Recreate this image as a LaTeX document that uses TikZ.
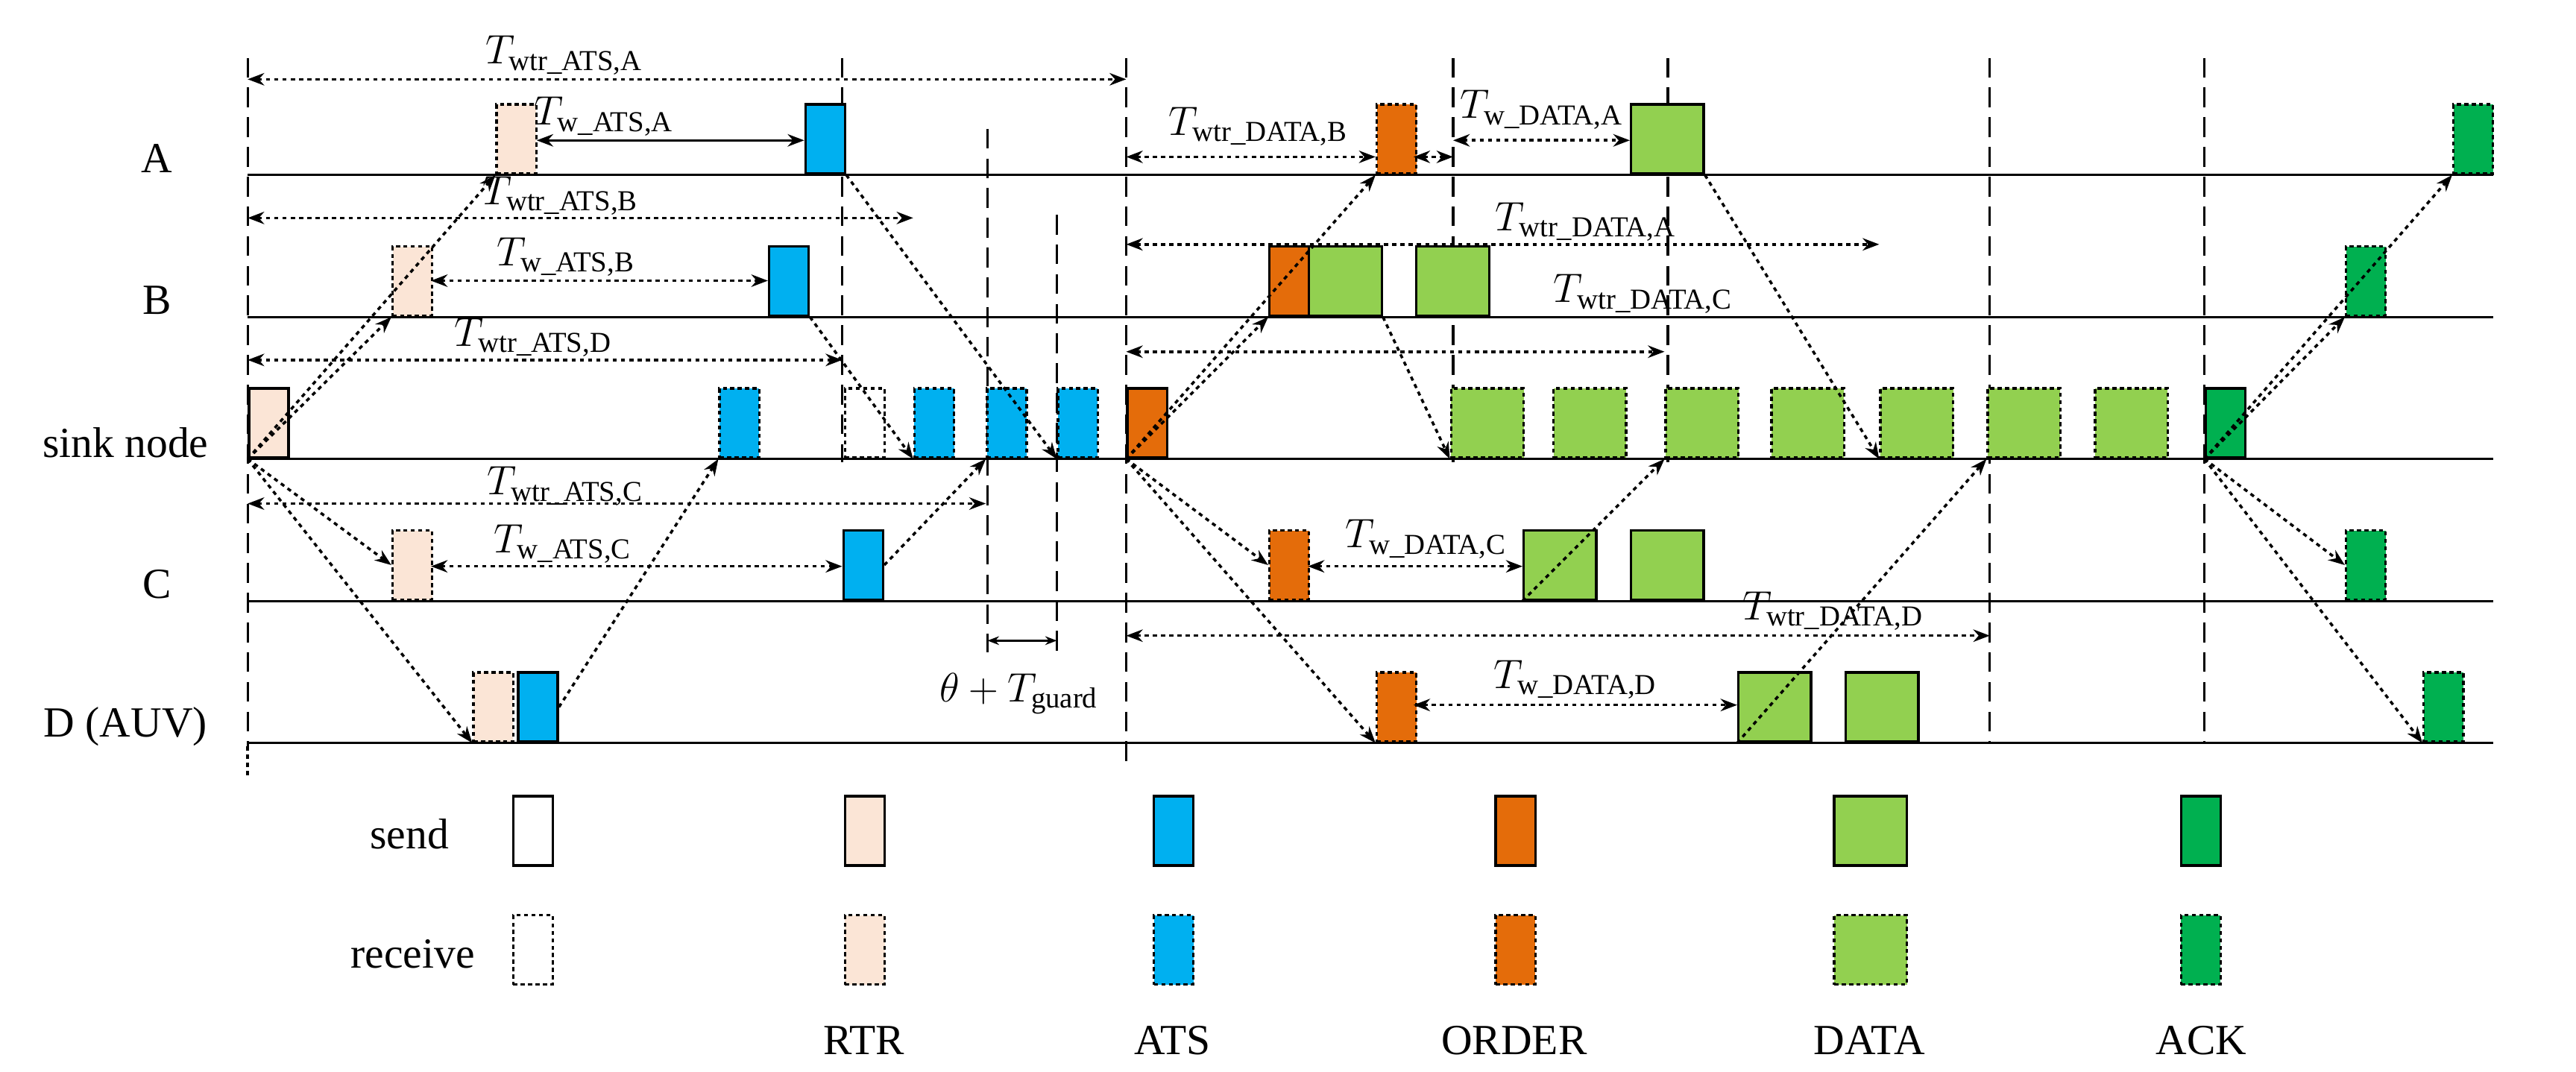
\documentclass[tikz,border=0pt]{standalone}
\usepackage{amsmath}
\usepackage{fontspec}
\setmainfont{Liberation Serif}
\usetikzlibrary{arrows.meta}
\definecolor{rtr}{HTML}{FBE5D6}
\definecolor{ats}{HTML}{00B0F0}
\definecolor{ord}{HTML}{E46C0A}
\definecolor{dat}{HTML}{92D050}
\definecolor{ack}{HTML}{00B050}
\begin{document}
\begin{tikzpicture}[x=1pt,y=-1pt,
 snd/.style={draw,line width=1.5pt,inner sep=0,minimum width=24pt,minimum height=42pt,anchor=south west},
 rcv/.style={snd,dash pattern=on 2.5pt off 2pt},
 big/.style={minimum width=44pt},
 dt/.style={line width=1.6pt,dash pattern=on 2.5pt off 2.5pt},
 msg/.style={dt,-{Stealth[length=10pt]}},
 dim/.style={dt,{Stealth[length=10pt]}-{Stealth[length=10pt]}},
 vl/.style={line width=1.5pt,dash pattern=on 12pt off 6pt},
 lbl/.style={font=\fontsize{26}{28}\selectfont,inner sep=1pt},
 tl/.style={font=\fontsize{25}{27}\selectfont,inner sep=0}]
\useasboundingbox (0,0) rectangle (1560,649);
% timelines
\foreach \y in {106,192,278,364,450}{\draw[line width=1.5pt] (150,\y) -- (1510,\y);}
\node[lbl] at (95,96) {A};
\node[lbl] at (95,182) {B};
\node[lbl] at (76,268) {sink node};
\node[lbl] at (95,354) {C};
\node[lbl] at (76,440) {D (AUV)};
% vertical dashed lines
\draw[vl] (150,35) -- (150,452);
\draw[dt] (150,452) -- (150,470);
\draw[vl] (510,35) -- (510,280);
\draw[vl] (598,78) -- (598,395);
\draw[vl] (640,130) -- (640,395);
\draw[vl] (682,35) -- (682,462);
\draw[vl] (880,35) -- (880,280);
\draw[vl] (1010,35) -- (1010,280);
\draw[vl] (1205,35) -- (1205,450);
\draw[vl] (1335,35) -- (1335,450);
% A
\node[rcv,fill=rtr] (aR) at (300,106) {};
\node[snd,fill=ats] (aT) at (487,106) {};
\node[rcv,fill=ord] (aO) at (833,106) {};
\node[snd,big,fill=dat] (aD) at (987,106) {};
\node[rcv,fill=ack] (aK) at (1485,106) {};
% B
\node[rcv,fill=rtr] (bR) at (237,192) {};
\node[snd,fill=ats] (bT) at (465,192) {};
\node[snd,fill=ord] (bO) at (768,192) {};
\node[snd,big,fill=dat] (bD1) at (792,192) {};
\node[snd,big,fill=dat] (bD2) at (857,192) {};
\node[rcv,fill=ack] (bK) at (1420,192) {};
% sink
\node[snd,fill=rtr] (sR) at (150,278) {};
\node[rcv,fill=ats] (sT1) at (435,278) {};
\node[rcv,fill=white] (sX) at (511,278) {};
\node[rcv,fill=ats] (sT2) at (553,278) {};
\node[rcv,fill=ats] (sT3) at (597,278) {};
\node[rcv,fill=ats] (sT4) at (640,278) {};
\node[snd,fill=ord] (sO) at (682,278) {};
\foreach \x/\n in {878/1,940/2,1008/3,1072/4,1138/5,1203/6,1268/7}{\node[rcv,big,fill=dat] (sD\n) at (\x,278) {};}
\node[snd,fill=ack] (sK) at (1335,278) {};
% C
\node[rcv,fill=rtr] (cR) at (237,364) {};
\node[snd,fill=ats] (cT) at (510,364) {};
\node[rcv,fill=ord] (cO) at (768,364) {};
\node[snd,big,fill=dat] (cD1) at (922,364) {};
\node[snd,big,fill=dat] (cD2) at (987,364) {};
\node[rcv,fill=ack] (cK) at (1420,364) {};
% D
\node[rcv,fill=rtr] (dR) at (286,450) {};
\node[snd,fill=ats] (dT) at (313,450) {};
\node[rcv,fill=ord] (dO) at (833,450) {};
\node[snd,big,fill=dat] (dD1) at (1052,450) {};
\node[snd,big,fill=dat] (dD2) at (1117,450) {};
\node[rcv,fill=ack] (dK) at (1467,450) {};
% message arrows
\draw[msg] (sR.south west) -- (aR.south west);
\draw[msg] (sR.south west) -- (bR.south west);
\draw[msg] (sR.south west) -- (cR.west);
\draw[msg] (sR.south west) -- (dR.south west);
\draw[msg] (aT.south east) -- (sT4.south west);
\draw[msg] (bT.south east) -- (sT2.south west);
\draw[msg] (cT.east) -- (sT3.south west);
\draw[msg] (dT.east) -- (sT1.south west);
\draw[msg] (sO.south west) -- (aO.south west);
\draw[msg] (sO.south west) -- (bO.south west);
\draw[msg] (sO.south west) -- (cO.west);
\draw[msg] (sO.south west) -- (dO.south west);
\draw[msg] (bD1.south east) -- (sD1.south west);
\draw[msg] (aD.south east) -- (sD5.south west);
\draw[msg] (cD1.south west) -- (sD3.south west);
\draw[msg] (dD1.south west) -- (sD6.south west);
\draw[msg] (sK.south west) -- (aK.south west);
\draw[msg] (sK.south west) -- (bK.south west);
\draw[msg] (sK.south west) -- (cK.west);
\draw[msg] (sK.south west) -- (dK.south west);
% dimensions
\draw[dim] (150,48) -- (682,48) node[tl,pos=0.36,above=2pt] {$T_{\text{wtr\_ATS,A}}$};
\draw[line width=1.5pt,{Stealth[length=10pt]}-{Stealth[length=10pt]}] (325,85) -- (487,85) node[tl,pos=0.25,above=2pt] {$T_{\text{w\_ATS,A}}$};
\draw[dim] (150,132) -- (553,132) node[tl,pos=0.47,above=1pt] {$T_{\text{wtr\_ATS,B}}$};
\draw[dim] (261,170) -- (465,170) node[tl,pos=0.4,above=2pt] {$T_{\text{w\_ATS,B}}$};
\draw[dim] (150,218) -- (510,218) node[tl,pos=0.48,above=1pt] {$T_{\text{wtr\_ATS,D}}$};
\draw[dim] (150,305) -- (597,305) node[tl,pos=0.43,above=-2pt] {$T_{\text{wtr\_ATS,C}}$};
\draw[dim] (261,343) -- (510,343) node[tl,pos=0.32,above=1pt] {$T_{\text{w\_ATS,C}}$};
\draw[line width=1.5pt,{Stealth[length=7pt]}-{Stealth[length=7pt]}] (598,388) -- (640,388);
\node[tl] at (617,420) {$\theta+T_{\text{guard}}$};
\draw[dim] (682,95) -- (833,95) node[tl,pos=0.53,above=6pt] {$T_{\text{wtr\_DATA,B}}$};
\draw[dim] (856,95) -- (880,95);
\draw[dim] (880,85) -- (987,85) node[tl,pos=0.5,above=6pt] {$T_{\text{w\_DATA,A}}$};
\draw[dim] (682,148) -- (1138,148) node[tl,pos=0.61,above=1pt] {$T_{\text{wtr\_DATA,A}}$};
\draw[dim] (682,213) -- (1008,213);
\node[tl] at (995,178) {$T_{\text{wtr\_DATA,C}}$};
\draw[dim] (792,343) -- (922,343) node[tl,pos=0.55,above=4pt] {$T_{\text{w\_DATA,C}}$};
\node[tl] at (1110,370) {$T_{\text{wtr\_DATA,D}}$};
\draw[dim] (682,385) -- (1205,385);
\draw[dim] (856,427) -- (1052,427) node[tl,pos=0.5,above=3pt] {$T_{\text{w\_DATA,D}}$};
% legend
\node[lbl] at (248,505) {send};
\node[lbl] at (250,578) {receive};
\node[snd,fill=white] at (310,525) {};
\node[rcv,fill=white] at (310,597) {};
\node[snd,fill=rtr] at (511,525) {};
\node[rcv,fill=rtr] at (511,597) {};
\node[snd,fill=ats] at (698,525) {};
\node[rcv,fill=ats] at (698,597) {};
\node[snd,fill=ord] at (905,525) {};
\node[rcv,fill=ord] at (905,597) {};
\node[snd,big,fill=dat] at (1110,525) {};
\node[rcv,big,fill=dat] at (1110,597) {};
\node[snd,fill=ack] at (1320,525) {};
\node[rcv,fill=ack] at (1320,597) {};
\node[lbl] at (523,630) {RTR};
\node[lbl] at (710,630) {ATS};
\node[lbl] at (917,630) {ORDER};
\node[lbl] at (1132,630) {DATA};
\node[lbl] at (1333,630) {ACK};
\end{tikzpicture}
\end{document}
